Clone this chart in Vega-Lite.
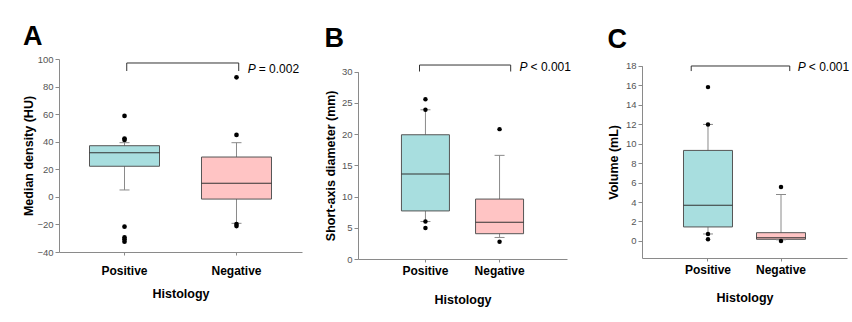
{
  "$schema": "https://vega.github.io/schema/vega-lite/v6.json",
  "background": "white",
  "padding": {"left": 22, "top": 23, "right": 0, "bottom": 0},
  "config": {
    "font": "Liberation Sans",
    "view": {"stroke": null},
    "title": {"fontSize": 27, "fontWeight": "bold", "anchor": "start", "frame": "bounds", "color": "#000000", "font": "Liberation Sans"},
    "axis": {"grid": false, "domainColor": "#8a8a8a", "tickColor": "#8a8a8a", "labelFont": "Liberation Sans", "titleFont": "Liberation Sans", "titleFontWeight": "bold", "titleFontSize": 12.5, "titleColor": "#000000"},
    "axisY": {"tickSize": 4, "labelFontSize": 9.5, "labelColor": "#555555", "labelPadding": 2, "labelOverlap": false, "labelFlush": false},
    "axisX": {"tickSize": 3, "labelFontSize": 12, "labelFontWeight": "bold", "labelColor": "#000000", "labelAngle": 0}
  },
  "datasets": {
    "boxA": [
      {"group": "Positive", "lower": 5.0, "q1": 22.2, "median": 32.0, "q3": 37.1, "upper": 39.3},
      {"group": "Negative", "lower": -19.2, "q1": -1.6, "median": 9.8, "q3": 28.9, "upper": 39.3}
    ],
    "ptsA": [
      {"group": "Positive", "value": 58.7}, {"group": "Positive", "value": 42.3}, {"group": "Positive", "value": 41.3},
      {"group": "Positive", "value": -21.6}, {"group": "Positive", "value": -29.4}, {"group": "Positive", "value": -30.8}, {"group": "Positive", "value": -32.5},
      {"group": "Negative", "value": 86.7}, {"group": "Negative", "value": 44.9}, {"group": "Negative", "value": -19.7}, {"group": "Negative", "value": -21.2}
    ],
    "brA": [{"left": "Positive", "right": "Negative", "level": 97.1, "foot": 91.3, "ty": 92.7, "p": "P", "rest": "= 0.002"}],
    "boxB": [
      {"group": "Positive", "lower": 6.0, "q1": 7.7, "median": 13.6, "q3": 19.9, "upper": 23.9},
      {"group": "Negative", "lower": 3.45, "q1": 4.05, "median": 5.9, "q3": 9.6, "upper": 16.6}
    ],
    "ptsB": [
      {"group": "Positive", "value": 25.6}, {"group": "Positive", "value": 23.9}, {"group": "Positive", "value": 6.0}, {"group": "Positive", "value": 4.96},
      {"group": "Negative", "value": 20.8}, {"group": "Negative", "value": 2.77}
    ],
    "brB": [{"left": "Positive", "right": "Negative", "level": 31.07, "foot": 30.03, "ty": 30.75, "p": "P", "rest": "< 0.001"}],
    "boxC": [
      {"group": "Positive", "lower": 0.72, "q1": 1.44, "median": 3.67, "q3": 9.3, "upper": 11.97},
      {"group": "Negative", "lower": 0.12, "q1": 0.17, "median": 0.33, "q3": 0.85, "upper": 4.77}
    ],
    "ptsC": [
      {"group": "Positive", "value": 15.8}, {"group": "Positive", "value": 11.97}, {"group": "Positive", "value": 0.72}, {"group": "Positive", "value": 0.17},
      {"group": "Negative", "value": 5.55}, {"group": "Negative", "value": 0.0}
    ],
    "brC": [{"left": "Positive", "right": "Negative", "level": 17.97, "foot": 17.45, "ty": 17.87, "p": "P", "rest": "< 0.001"}]
  },
  "spacing": 22,
  "hconcat": [
    {
      "title": {"text": "A", "offset": 3},
      "width": 243, "height": 193,
      "encoding": {
        "x": {"field": "group", "type": "nominal", "title": "Histology", "scale": {"domain": ["Positive", "Negative"], "paddingInner": 0, "paddingOuter": 0.085}, "axis": {"labelPadding": 10, "titlePadding": 11}}
      },
      "layer": [
        {"data": {"name": "boxA"}, "mark": {"type": "rule", "color": "#8a8a8a"}, "encoding": {
          "y": {"field": "lower", "type": "quantitative", "title": "Median density (HU)", "scale": {"domain": [-40, 100], "nice": false, "zero": false}, "axis": {"values": [-40, -20, 0, 20, 40, 60, 80, 100], "titlePadding": 1, "labelOverlap": false}},
          "y2": {"field": "upper"}}},
        {"data": {"name": "boxA"}, "mark": {"type": "bar", "size": 70, "stroke": "#555555", "strokeWidth": 1}, "encoding": {
          "y": {"field": "q1", "type": "quantitative", "title": "Median density (HU)", "axis": {"values": [-40, -20, 0, 20, 40, 60, 80, 100], "titlePadding": 1, "labelOverlap": false}}, "y2": {"field": "q3"},
          "fill": {"field": "group", "type": "nominal", "scale": {"domain": ["Positive", "Negative"], "range": ["#a8dedf", "#ffc4c4"]}, "legend": null}}},
        {"data": {"name": "boxA"}, "mark": {"type": "tick", "size": 70, "thickness": 1, "color": "#333333", "opacity": 1}, "encoding": {
          "y": {"field": "median", "type": "quantitative", "title": "Median density (HU)", "axis": {"values": [-40, -20, 0, 20, 40, 60, 80, 100], "titlePadding": 1, "labelOverlap": false}}}},
        {"data": {"name": "boxA"}, "mark": {"type": "tick", "size": 10, "thickness": 1, "color": "#8a8a8a", "opacity": 1}, "encoding": {
          "y": {"field": "lower", "type": "quantitative", "title": "Median density (HU)", "axis": {"values": [-40, -20, 0, 20, 40, 60, 80, 100], "titlePadding": 1, "labelOverlap": false}}}},
        {"data": {"name": "boxA"}, "mark": {"type": "tick", "size": 10, "thickness": 1, "color": "#8a8a8a", "opacity": 1}, "encoding": {
          "y": {"field": "upper", "type": "quantitative", "title": "Median density (HU)", "axis": {"values": [-40, -20, 0, 20, 40, 60, 80, 100], "titlePadding": 1, "labelOverlap": false}}}},
        {"data": {"name": "ptsA"}, "mark": {"type": "circle", "size": 22, "color": "#000000", "opacity": 1}, "encoding": {
          "y": {"field": "value", "type": "quantitative", "title": "Median density (HU)", "axis": {"values": [-40, -20, 0, 20, 40, 60, 80, 100], "titlePadding": 1, "labelOverlap": false}}}},
        {"data": {"name": "brA"}, "mark": {"type": "rule", "color": "#333333"}, "encoding": {
          "x": {"field": "left", "type": "nominal", "title": "Histology", "bandPosition": 0.52},
          "x2": {"field": "right", "bandPosition": 0.52},
          "y": {"field": "level", "type": "quantitative", "title": "Median density (HU)", "axis": {"values": [-40, -20, 0, 20, 40, 60, 80, 100], "titlePadding": 1, "labelOverlap": false}}}},
        {"data": {"name": "brA"}, "mark": {"type": "rule", "color": "#333333"}, "encoding": {
          "x": {"field": "left", "type": "nominal", "title": "Histology", "bandPosition": 0.52},
          "y": {"field": "level", "type": "quantitative", "title": "Median density (HU)", "axis": {"values": [-40, -20, 0, 20, 40, 60, 80, 100], "titlePadding": 1, "labelOverlap": false}}, "y2": {"field": "foot"}}},
        {"data": {"name": "brA"}, "mark": {"type": "rule", "color": "#333333"}, "encoding": {
          "x": {"field": "right", "type": "nominal", "title": "Histology", "bandPosition": 0.52},
          "y": {"field": "level", "type": "quantitative", "title": "Median density (HU)", "axis": {"values": [-40, -20, 0, 20, 40, 60, 80, 100], "titlePadding": 1, "labelOverlap": false}}, "y2": {"field": "foot"}}},
        {"data": {"name": "brA"}, "mark": {"type": "text", "fontSize": 12, "fontStyle": "italic", "align": "left", "baseline": "middle", "color": "#000000"}, "encoding": {
          "x": {"field": "right", "type": "nominal", "title": "Histology", "bandPosition": 0.6},
          "y": {"field": "ty", "type": "quantitative", "title": "Median density (HU)", "axis": {"values": [-40, -20, 0, 20, 40, 60, 80, 100], "titlePadding": 1, "labelOverlap": false}}, "text": {"field": "p"}}},
        {"data": {"name": "brA"}, "mark": {"type": "text", "fontSize": 12, "align": "left", "baseline": "middle", "dx": 11, "color": "#000000"}, "encoding": {
          "x": {"field": "right", "type": "nominal", "title": "Histology", "bandPosition": 0.6},
          "y": {"field": "ty", "type": "quantitative", "title": "Median density (HU)", "axis": {"values": [-40, -20, 0, 20, 40, 60, 80, 100], "titlePadding": 1, "labelOverlap": false}}, "text": {"field": "rest"}}}
      ]
    },
    {
      "spacing": 36,
      "hconcat": [
        {
          "title": {"text": "B", "offset": 6.5},
          "width": 209, "height": 200,
          "encoding": {
            "x": {"field": "group", "type": "nominal", "title": "Histology", "scale": {"domain": ["Positive", "Negative"], "paddingInner": 0, "paddingOuter": 0.41}, "axis": {"labelPadding": 3.7, "titlePadding": 17}}
          },
          "layer": [
            {"data": {"name": "boxB"}, "mark": {"type": "rule", "color": "#8a8a8a"}, "encoding": {
              "y": {"field": "lower", "type": "quantitative", "title": "Short-axis diameter (mm)", "scale": {"domain": [0, 30], "nice": false, "zero": false, "range": [200, 12.7]}, "axis": {"values": [0, 5, 10, 15, 20, 25, 30], "titlePadding": 4, "labelOverlap": false}},
              "y2": {"field": "upper"}}},
            {"data": {"name": "boxB"}, "mark": {"type": "bar", "size": 48, "stroke": "#555555", "strokeWidth": 1}, "encoding": {
              "y": {"field": "q1", "type": "quantitative", "title": "Short-axis diameter (mm)", "axis": {"values": [0, 5, 10, 15, 20, 25, 30], "titlePadding": 4, "labelOverlap": false}}, "y2": {"field": "q3"},
              "fill": {"field": "group", "type": "nominal", "scale": {"domain": ["Positive", "Negative"], "range": ["#a8dedf", "#ffc4c4"]}, "legend": null}}},
            {"data": {"name": "boxB"}, "mark": {"type": "tick", "size": 48, "thickness": 1, "color": "#333333", "opacity": 1}, "encoding": {
              "y": {"field": "median", "type": "quantitative", "title": "Short-axis diameter (mm)", "axis": {"values": [0, 5, 10, 15, 20, 25, 30], "titlePadding": 4, "labelOverlap": false}}}},
            {"data": {"name": "boxB"}, "mark": {"type": "tick", "size": 10, "thickness": 1, "color": "#8a8a8a", "opacity": 1}, "encoding": {
              "y": {"field": "lower", "type": "quantitative", "title": "Short-axis diameter (mm)", "axis": {"values": [0, 5, 10, 15, 20, 25, 30], "titlePadding": 4, "labelOverlap": false}}}},
            {"data": {"name": "boxB"}, "mark": {"type": "tick", "size": 10, "thickness": 1, "color": "#8a8a8a", "opacity": 1}, "encoding": {
              "y": {"field": "upper", "type": "quantitative", "title": "Short-axis diameter (mm)", "axis": {"values": [0, 5, 10, 15, 20, 25, 30], "titlePadding": 4, "labelOverlap": false}}}},
            {"data": {"name": "ptsB"}, "mark": {"type": "circle", "size": 20, "color": "#000000", "opacity": 1}, "encoding": {
              "y": {"field": "value", "type": "quantitative", "title": "Short-axis diameter (mm)", "axis": {"values": [0, 5, 10, 15, 20, 25, 30], "titlePadding": 4, "labelOverlap": false}}}},
            {"data": {"name": "brB"}, "mark": {"type": "rule", "color": "#333333"}, "encoding": {
              "x": {"field": "left", "type": "nominal", "title": "Histology", "bandPosition": 0.42},
              "x2": {"field": "right", "bandPosition": 0.65},
              "y": {"field": "level", "type": "quantitative", "title": "Short-axis diameter (mm)", "axis": {"values": [0, 5, 10, 15, 20, 25, 30], "titlePadding": 4, "labelOverlap": false}}}},
            {"data": {"name": "brB"}, "mark": {"type": "rule", "color": "#333333"}, "encoding": {
              "x": {"field": "left", "type": "nominal", "title": "Histology", "bandPosition": 0.42},
              "y": {"field": "level", "type": "quantitative", "title": "Short-axis diameter (mm)", "axis": {"values": [0, 5, 10, 15, 20, 25, 30], "titlePadding": 4, "labelOverlap": false}}, "y2": {"field": "foot"}}},
            {"data": {"name": "brB"}, "mark": {"type": "rule", "color": "#333333"}, "encoding": {
              "x": {"field": "right", "type": "nominal", "title": "Histology", "bandPosition": 0.65},
              "y": {"field": "level", "type": "quantitative", "title": "Short-axis diameter (mm)", "axis": {"values": [0, 5, 10, 15, 20, 25, 30], "titlePadding": 4, "labelOverlap": false}}, "y2": {"field": "foot"}}},
            {"data": {"name": "brB"}, "mark": {"type": "text", "fontSize": 12, "fontStyle": "italic", "align": "left", "baseline": "middle", "color": "#000000"}, "encoding": {
              "x": {"field": "right", "type": "nominal", "title": "Histology", "bandPosition": 0.77},
              "y": {"field": "ty", "type": "quantitative", "title": "Short-axis diameter (mm)", "axis": {"values": [0, 5, 10, 15, 20, 25, 30], "titlePadding": 4, "labelOverlap": false}}, "text": {"field": "p"}}},
            {"data": {"name": "brB"}, "mark": {"type": "text", "fontSize": 12, "align": "left", "baseline": "middle", "dx": 11, "color": "#000000"}, "encoding": {
              "x": {"field": "right", "type": "nominal", "title": "Histology", "bandPosition": 0.77},
              "y": {"field": "ty", "type": "quantitative", "title": "Short-axis diameter (mm)", "axis": {"values": [0, 5, 10, 15, 20, 25, 30], "titlePadding": 4, "labelOverlap": false}}, "text": {"field": "rest"}}}
          ]
        },
        {
          "title": {"text": "C", "offset": 5.5},
          "width": 205, "height": 199,
          "encoding": {
            "x": {"field": "group", "type": "nominal", "title": "Histology", "scale": {"domain": ["Positive", "Negative"], "paddingInner": 0, "paddingOuter": 0.404}, "axis": {"labelPadding": 3.6, "titlePadding": 15.5}}
          },
          "layer": [
            {"data": {"name": "boxC"}, "mark": {"type": "rule", "color": "#8a8a8a"}, "encoding": {
              "y": {"field": "lower", "type": "quantitative", "title": "Volume (mL)", "scale": {"domain": [-1.75, 18], "nice": false, "zero": false, "range": [199, 6.7]}, "axis": {"values": [0, 2, 4, 6, 8, 10, 12, 14, 16, 18], "titlePadding": 5, "labelOverlap": false}},
              "y2": {"field": "upper"}}},
            {"data": {"name": "boxC"}, "mark": {"type": "bar", "size": 49, "stroke": "#555555", "strokeWidth": 1}, "encoding": {
              "y": {"field": "q1", "type": "quantitative", "title": "Volume (mL)", "axis": {"values": [0, 2, 4, 6, 8, 10, 12, 14, 16, 18], "titlePadding": 5, "labelOverlap": false}}, "y2": {"field": "q3"},
              "fill": {"field": "group", "type": "nominal", "scale": {"domain": ["Positive", "Negative"], "range": ["#a8dedf", "#ffc4c4"]}, "legend": null}}},
            {"data": {"name": "boxC"}, "mark": {"type": "tick", "size": 49, "thickness": 1, "color": "#333333", "opacity": 1}, "encoding": {
              "y": {"field": "median", "type": "quantitative", "title": "Volume (mL)", "axis": {"values": [0, 2, 4, 6, 8, 10, 12, 14, 16, 18], "titlePadding": 5, "labelOverlap": false}}}},
            {"data": {"name": "boxC"}, "mark": {"type": "tick", "size": 10, "thickness": 1, "color": "#8a8a8a", "opacity": 1}, "encoding": {
              "y": {"field": "lower", "type": "quantitative", "title": "Volume (mL)", "axis": {"values": [0, 2, 4, 6, 8, 10, 12, 14, 16, 18], "titlePadding": 5, "labelOverlap": false}}}},
            {"data": {"name": "boxC"}, "mark": {"type": "tick", "size": 10, "thickness": 1, "color": "#8a8a8a", "opacity": 1}, "encoding": {
              "y": {"field": "upper", "type": "quantitative", "title": "Volume (mL)", "axis": {"values": [0, 2, 4, 6, 8, 10, 12, 14, 16, 18], "titlePadding": 5, "labelOverlap": false}}}},
            {"data": {"name": "ptsC"}, "mark": {"type": "circle", "size": 20, "color": "#000000", "opacity": 1}, "encoding": {
              "y": {"field": "value", "type": "quantitative", "title": "Volume (mL)", "axis": {"values": [0, 2, 4, 6, 8, 10, 12, 14, 16, 18], "titlePadding": 5, "labelOverlap": false}}}},
            {"data": {"name": "brC"}, "mark": {"type": "rule", "color": "#333333"}, "encoding": {
              "x": {"field": "left", "type": "nominal", "title": "Histology", "bandPosition": 0.27},
              "x2": {"field": "right", "bandPosition": 0.62},
              "y": {"field": "level", "type": "quantitative", "title": "Volume (mL)", "axis": {"values": [0, 2, 4, 6, 8, 10, 12, 14, 16, 18], "titlePadding": 5, "labelOverlap": false}}}},
            {"data": {"name": "brC"}, "mark": {"type": "rule", "color": "#333333"}, "encoding": {
              "x": {"field": "left", "type": "nominal", "title": "Histology", "bandPosition": 0.27},
              "y": {"field": "level", "type": "quantitative", "title": "Volume (mL)", "axis": {"values": [0, 2, 4, 6, 8, 10, 12, 14, 16, 18], "titlePadding": 5, "labelOverlap": false}}, "y2": {"field": "foot"}}},
            {"data": {"name": "brC"}, "mark": {"type": "rule", "color": "#333333"}, "encoding": {
              "x": {"field": "right", "type": "nominal", "title": "Histology", "bandPosition": 0.62},
              "y": {"field": "level", "type": "quantitative", "title": "Volume (mL)", "axis": {"values": [0, 2, 4, 6, 8, 10, 12, 14, 16, 18], "titlePadding": 5, "labelOverlap": false}}, "y2": {"field": "foot"}}},
            {"data": {"name": "brC"}, "mark": {"type": "text", "fontSize": 12, "fontStyle": "italic", "align": "left", "baseline": "middle", "color": "#000000"}, "encoding": {
              "x": {"field": "right", "type": "nominal", "title": "Histology", "bandPosition": 0.73},
              "y": {"field": "ty", "type": "quantitative", "title": "Volume (mL)", "axis": {"values": [0, 2, 4, 6, 8, 10, 12, 14, 16, 18], "titlePadding": 5, "labelOverlap": false}}, "text": {"field": "p"}}},
            {"data": {"name": "brC"}, "mark": {"type": "text", "fontSize": 12, "align": "left", "baseline": "middle", "dx": 11, "color": "#000000"}, "encoding": {
              "x": {"field": "right", "type": "nominal", "title": "Histology", "bandPosition": 0.73},
              "y": {"field": "ty", "type": "quantitative", "title": "Volume (mL)", "axis": {"values": [0, 2, 4, 6, 8, 10, 12, 14, 16, 18], "titlePadding": 5, "labelOverlap": false}}, "text": {"field": "rest"}}}
          ]
        }
      ]
    }
  ]
}
